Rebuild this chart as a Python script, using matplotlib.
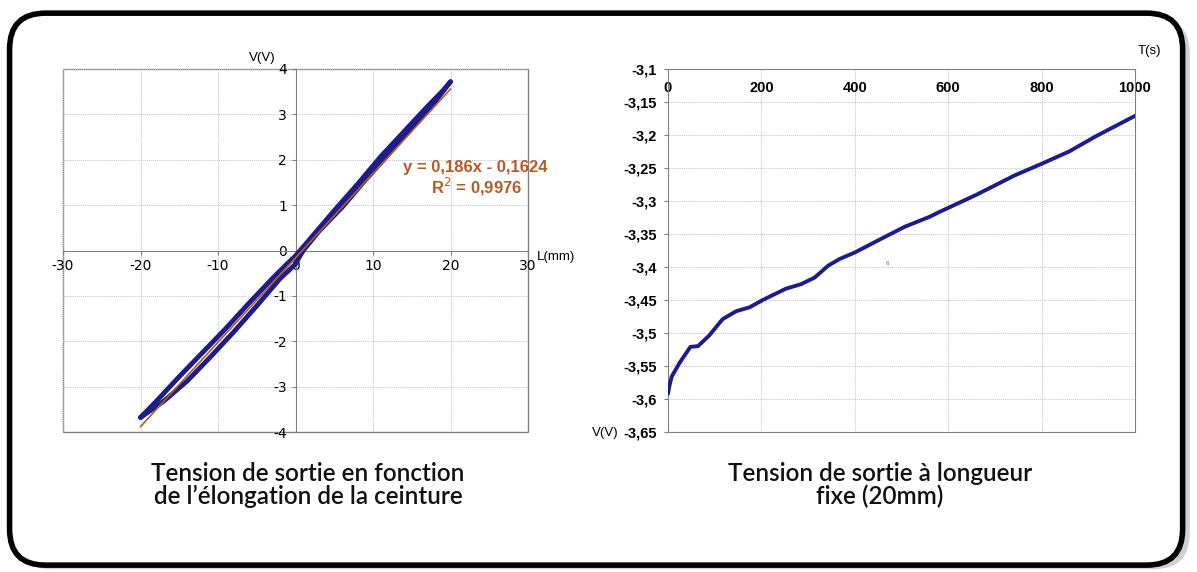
import numpy as np
import matplotlib.pyplot as plt
from matplotlib.patches import FancyBboxPatch, Rectangle

# --- data ---
# elongation test: loading branch and unloading branch
L_up = [-20, -18, -15, -12, -9, -6, -3, -1, 0, 2, 5, 8, 11, 14, 17, 19, 20]
V_up = [-3.68, -3.33, -2.78, -2.25, -1.72, -1.16, -0.62, -0.28, -0.12, 0.28, 0.88, 1.46, 2.07, 2.62, 3.17, 3.52, 3.72]
L_down = [20, 18, 15, 12, 9, 6, 3, 1, 0.3, 0, -2, -5, -8, -11, -14, -17, -20]
V_down = [3.72, 3.28, 2.70, 2.12, 1.55, 0.95, 0.42, 0.00, -0.20, -0.30, -0.62, -1.22, -1.80, -2.35, -2.88, -3.32, -3.68]
slope = 0.186
intercept = -0.1624

# fixed length test
T = [0, 3, 8, 25, 48, 64, 88, 117, 146, 175, 203, 252, 285, 314, 343, 367, 400,
     449, 507, 560, 580, 662, 743, 802, 859, 916, 1000]
V_t = [-3.592, -3.58, -3.566, -3.545, -3.521, -3.520, -3.504, -3.479, -3.467, -3.461,
       -3.450, -3.433, -3.426, -3.416, -3.398, -3.388, -3.378, -3.360, -3.339, -3.324,
       -3.317, -3.290, -3.261, -3.243, -3.225, -3.202, -3.171]

left_ticks_x = [-30, -20, -10, 0, 10, 20, 30]
left_ticks_y = [-4, -3, -2, -1, 0, 1, 2, 3, 4]
right_ticks_x = [0, 200, 400, 600, 800, 1000]
right_ticks_y = [-3.65, -3.6, -3.55, -3.5, -3.45, -3.4, -3.35, -3.3, -3.25, -3.2, -3.15, -3.1]

blue = '#1c1c8a'
orange = '#b85a26'
grid_kw = dict(color='#c4c4c4', linestyle=(0, (1, 1)), linewidth=0.7)
tick_font = dict(family='Liberation Sans', weight='bold', size=10.5)

def fr(v):
    return ('%g' % v).replace('.', ',')

fig = plt.figure(figsize=(11.97, 5.72), dpi=100)

# rounded frame with a soft shadow
shadow = FancyBboxPatch((0.012, 0.005), 0.982, 0.965, boxstyle='round,pad=0,rounding_size=0.03',
                        transform=fig.transFigure, facecolor='#d0d0d0', edgecolor='none',
                        mutation_aspect=1197 / 572, zorder=0)
frame = FancyBboxPatch((0.008, 0.012), 0.98, 0.965, boxstyle='round,pad=0,rounding_size=0.03',
                       transform=fig.transFigure, facecolor='white', edgecolor='black',
                       linewidth=4, mutation_aspect=1197 / 572, zorder=1)
fig.patches.extend([shadow, frame])

# ---------- left chart ----------
ax1 = fig.add_axes([63 / 1197, 1 - 432 / 572, 465 / 1197, 363 / 572])
ax1.set_facecolor('none')
ax1.set_zorder(2)
ax1.set_xlim(-30, 30)
ax1.set_ylim(-4, 4)
ax1.set_xticks(left_ticks_x)
ax1.set_yticks(left_ticks_y)
ax1.set_xticklabels([fr(v) for v in left_ticks_x], **tick_font)
ax1.set_yticklabels([fr(v) for v in left_ticks_y], **tick_font)
ax1.grid(True, **grid_kw)
for s in ['top', 'right']:
    ax1.spines[s].set_visible(False)
ax1.spines['left'].set_position(('data', 0))
ax1.spines['bottom'].set_position(('data', 0))
for s in ['left', 'bottom']:
    ax1.spines[s].set_color('#808080')
ax1.tick_params(length=3, color='#808080', pad=3)
ax1.add_patch(Rectangle((0, 0), 1, 1, transform=ax1.transAxes, fill=False,
                        edgecolor='#808080', linewidth=1, clip_on=False))

ax1.plot(L_up, V_up, color=blue, linewidth=3.5, solid_capstyle='round', zorder=3)
ax1.plot(L_down, V_down, color=blue, linewidth=3.5, solid_capstyle='round', zorder=3)
xfit = np.array([-20, 20])
ax1.plot(xfit, slope * xfit + intercept, color=orange, linewidth=1.2, zorder=4)

ax1.text(23.2, 1.83, 'y = 0,186x - 0,1624', color=orange, ha='center', va='center',
         fontsize=12, family='Liberation Sans', weight='bold')
ax1.text(23.4, 1.39, 'R$^{2}$ = 0,9976', color=orange, ha='center', va='center',
         fontsize=12, family='Liberation Sans', weight='bold')
ax1.text(-4.3, 4.1, 'V(V)', fontsize=9.5, family='Liberation Sans', ha='center', va='bottom')
ax1.text(31.2, -0.15, 'L(mm)', fontsize=9.5, family='Liberation Sans', ha='left', va='center')

# ---------- right chart ----------
ax2 = fig.add_axes([668 / 1197, 1 - 432 / 572, 467 / 1197, 363 / 572])
ax2.set_facecolor('none')
ax2.set_zorder(2)
ax2.set_xlim(0, 1000)
ax2.set_ylim(-3.65, -3.1)
ax2.xaxis.tick_top()
ax2.set_xticks(right_ticks_x)
ax2.set_yticks(right_ticks_y)
ax2.set_xticklabels([fr(v) for v in right_ticks_x], **tick_font)
ax2.set_yticklabels([fr(round(v, 2)) for v in right_ticks_y], **tick_font)
ax2.grid(True, **grid_kw)
for s in ax2.spines.values():
    s.set_color('#808080')
ax2.tick_params(axis='x', length=0, pad=-19)
ax2.tick_params(axis='y', length=3, color='#808080', pad=5)

ax2.plot(T, V_t, color=blue, linewidth=2.8, solid_capstyle='round', zorder=3)
ax2.text(470, -3.395, '6', fontsize=4, color='#666666', ha='center', va='center')
ax2.text(1030, -3.082, 'T(s)', fontsize=9.5, family='Liberation Sans', ha='center', va='bottom')
ax2.text(-105, -3.652, 'V(V)', fontsize=9.5, family='Liberation Sans', ha='right', va='center')

# ---------- captions ----------
cap = dict(fontsize=17.5, family='Lato', weight='semibold', ha='center', va='center', color='#111111')
fig.text(308 / 1197, 1 - 485 / 572, 'Tension de sortie en fonction\nde l\u2019élongation de la ceinture',
         linespacing=1.0, **cap)
fig.text(880 / 1197, 1 - 485 / 572, 'Tension de sortie à longueur\nfixe (20mm)',
         linespacing=1.0, **cap)

fig.savefig('out.png', dpi=100)
